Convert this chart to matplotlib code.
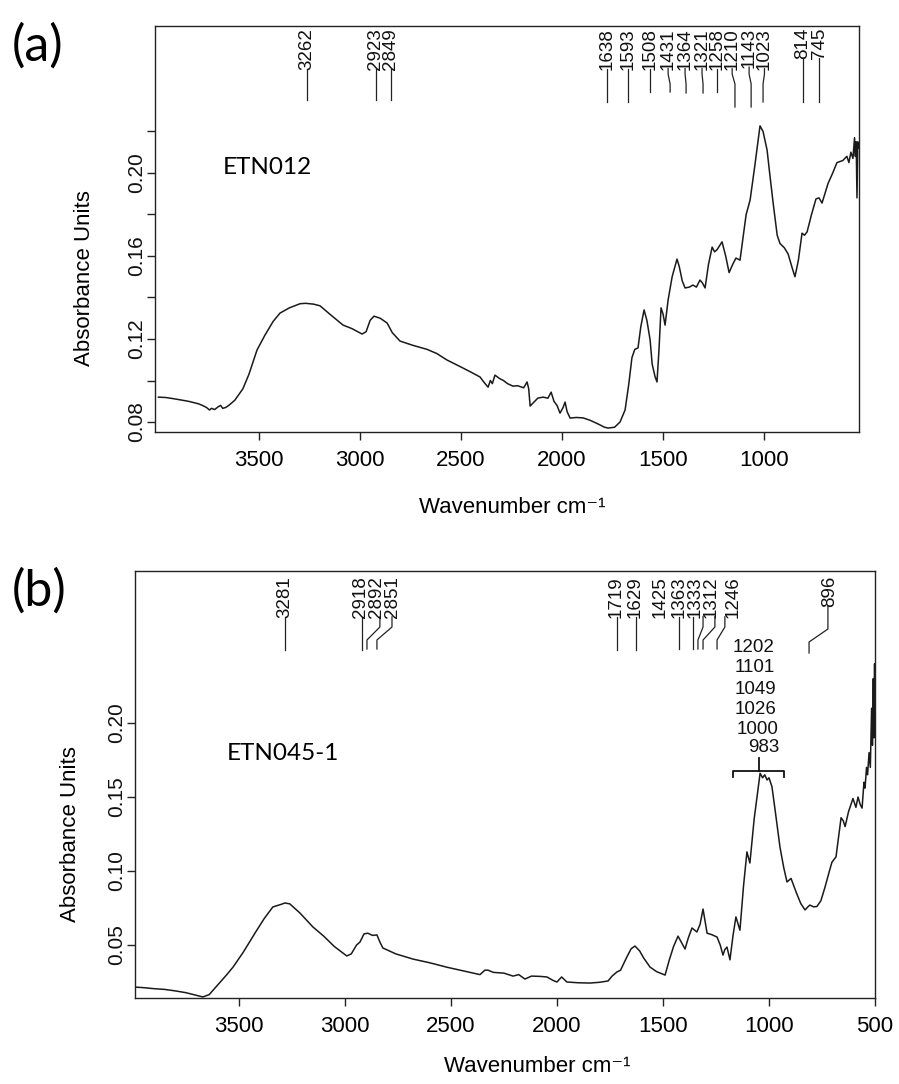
import matplotlib
matplotlib.use("Agg")
import matplotlib.pyplot as plt
import matplotlib.transforms as mtransforms

plt.rcParams['font.family'] = ['Liberation Sans', 'DejaVu Sans']

# ---------------- data: panel (a) ETN012 ----------------
wn_a = [3998, 3960, 3920, 3880, 3850, 3820, 3800, 3780, 3760, 3745, 3735, 3720, 3700, 3690,
        3680, 3665, 3650, 3620, 3580, 3550, 3510, 3470, 3430, 3396, 3350, 3297, 3270, 3230,
        3198, 3150, 3084, 3040, 2990, 2970, 2950, 2931, 2900, 2866, 2840, 2802, 2740, 2668,
        2620, 2570, 2500, 2450, 2406, 2385, 2366, 2355, 2345, 2332, 2310, 2290, 2270, 2243,
        2220, 2190, 2173, 2165, 2158, 2140, 2120, 2094, 2070, 2054, 2040, 2025, 2010, 1995,
        1985, 1975, 1960, 1930, 1896, 1860, 1820, 1790, 1772, 1740, 1713, 1688, 1670, 1654,
        1640, 1624, 1610, 1594, 1580, 1564, 1554, 1540, 1530, 1520, 1510, 1500, 1490, 1475,
        1455, 1431, 1420, 1405, 1391, 1370, 1352, 1335, 1317, 1305, 1292, 1275, 1257, 1245,
        1233, 1208, 1190, 1173, 1155, 1139, 1119, 1100, 1089, 1069, 1045, 1020, 1005, 985,
        970, 955, 935, 921, 900, 881, 860, 847, 830, 812, 800, 787, 765, 743, 728, 713, 683,
        660, 639, 610, 590, 580, 570, 560, 552, 548, 544, 540, 536, 532]
abs_a = [0.0920, 0.0918, 0.0912, 0.0905, 0.0900, 0.0893, 0.0888, 0.0880, 0.0870, 0.0858,
         0.0866, 0.0860, 0.0875, 0.0880, 0.0866, 0.0870, 0.0880, 0.0905, 0.0960, 0.1030,
         0.1147, 0.1220, 0.1285, 0.1325, 0.1350, 0.1370, 0.1372, 0.1368, 0.1360, 0.1320,
         0.1267, 0.1250, 0.1224, 0.1235, 0.1290, 0.1310, 0.1300, 0.1277, 0.1230, 0.1190,
         0.1170, 0.1150, 0.1130, 0.1099, 0.1065, 0.1040, 0.1017, 0.0990, 0.0968, 0.1000,
         0.0985, 0.1026, 0.1010, 0.1000, 0.0985, 0.0973, 0.0975, 0.0965, 0.0993, 0.0960,
         0.0877, 0.0895, 0.0915, 0.0920, 0.0915, 0.0944, 0.0900, 0.0880, 0.0843, 0.0870,
         0.0896, 0.0850, 0.0819, 0.0822, 0.0820, 0.0808, 0.0790, 0.0775, 0.0771, 0.0775,
         0.0800, 0.0858, 0.0980, 0.1110, 0.1150, 0.1157, 0.1260, 0.1340, 0.1290, 0.1195,
         0.1080, 0.1020, 0.0993, 0.1150, 0.1350, 0.1320, 0.1267, 0.1388, 0.1500, 0.1585,
         0.1550, 0.1480, 0.1446, 0.1450, 0.1460, 0.1450, 0.1484, 0.1470, 0.1446, 0.1560,
         0.1643, 0.1620, 0.1630, 0.1668, 0.1600, 0.1520, 0.1560, 0.1590, 0.1580, 0.1720,
         0.1798, 0.1870, 0.2040, 0.2227, 0.2200, 0.2110, 0.1980, 0.1855, 0.1700, 0.1660,
         0.1640, 0.1610, 0.1540, 0.1500, 0.1580, 0.1710, 0.1700, 0.1716, 0.1800, 0.1875,
         0.1880, 0.1855, 0.1950, 0.2000, 0.2050, 0.2060, 0.2080, 0.2050, 0.2100, 0.2070,
         0.2170, 0.2080, 0.2150, 0.1880, 0.2150, 0.2120]

# ---------------- data: panel (b) ETN045-1 ----------------
wn_b = [3995, 3950, 3900, 3850, 3800, 3750, 3700, 3670, 3640, 3600, 3560, 3528, 3480, 3420,
        3380, 3340, 3300, 3283, 3260, 3212, 3151, 3100, 3050, 2991, 2970, 2945, 2929, 2910,
        2892, 2870, 2849, 2835, 2821, 2760, 2679, 2600, 2519, 2440, 2363, 2340, 2325, 2300,
        2250, 2207, 2180, 2151, 2120, 2080, 2047, 2020, 2000, 1978, 1953, 1900, 1844, 1800,
        1759, 1740, 1717, 1700, 1670, 1650, 1632, 1610, 1590, 1561, 1530, 1490, 1470, 1450,
        1429, 1410, 1396, 1380, 1363, 1350, 1340, 1325, 1311, 1300, 1292, 1270, 1245, 1230,
        1217, 1208, 1198, 1184, 1170, 1156, 1137, 1120, 1104, 1090, 1070, 1052, 1042, 1030,
        1020, 1009, 1000, 986, 970, 948, 930, 915, 896, 870, 850, 830, 815, 807, 790, 774,
        755, 736, 715, 703, 684, 670, 660, 650, 641, 625, 604, 590, 580, 570, 561, 552, 547,
        540, 535, 528, 522, 516, 512, 508, 505, 502, 500]
abs_b = [0.0216, 0.0212, 0.0205, 0.0200, 0.0190, 0.0178, 0.0160, 0.0149, 0.0165, 0.0230,
         0.0295, 0.0350, 0.0450, 0.0590, 0.0680, 0.0757, 0.0775, 0.0784, 0.0778, 0.0716,
         0.0622, 0.0560, 0.0490, 0.0426, 0.0440, 0.0500, 0.0520, 0.0575, 0.0580, 0.0565,
         0.0568, 0.0520, 0.0480, 0.0440, 0.0405, 0.0380, 0.0350, 0.0325, 0.0300, 0.0330,
         0.0330, 0.0315, 0.0310, 0.0290, 0.0300, 0.0270, 0.0290, 0.0288, 0.0284, 0.0262,
         0.0250, 0.0284, 0.0250, 0.0245, 0.0243, 0.0248, 0.0257, 0.0290, 0.0318, 0.0330,
         0.0420, 0.0475, 0.0493, 0.0460, 0.0410, 0.0351, 0.0320, 0.0297, 0.0400, 0.0490,
         0.0560, 0.0510, 0.0473, 0.0550, 0.0615, 0.0600, 0.0588, 0.0640, 0.0743, 0.0650,
         0.0580, 0.0570, 0.0554, 0.0500, 0.0432, 0.0470, 0.0486, 0.0400, 0.0560, 0.0690,
         0.0600, 0.0900, 0.1129, 0.1054, 0.1350, 0.1548, 0.1660, 0.1630, 0.1650, 0.1615,
         0.1630, 0.1570, 0.1400, 0.1160, 0.1020, 0.0926, 0.0950, 0.0850, 0.0780, 0.0737,
         0.0760, 0.0770, 0.0758, 0.0760, 0.0800, 0.0890, 0.1000, 0.1060, 0.1095, 0.1250,
         0.1360, 0.1340, 0.1300, 0.1400, 0.1490, 0.1430, 0.1500, 0.1450, 0.1425, 0.1600,
         0.1560, 0.1700, 0.1650, 0.1800, 0.1700, 0.2100, 0.1850, 0.2300, 0.1900, 0.2400,
         0.2100]

# ---------------- peak annotations ----------------
peaks_a = ['3262', '2923', '2849', '1638', '1593', '1508', '1431', '1364', '1321', '1258',
           '1210', '1143', '1023', '814', '745']
peaks_b_vert = ['3281', '2918', '2892', '2851', '1719', '1629', '1425', '1363', '1333',
                '1312', '1246', '896']
peaks_b_stack = ['1202', '1101', '1049', '1026', '1000', '983']
yticks_a = [0.08, 0.10, 0.12, 0.14, 0.16, 0.18, 0.20, 0.22]
yticklabels_a = ['0.08', '', '0.12', '', '0.16', '', '0.20', '']
yticks_b = [0.05, 0.10, 0.15, 0.20]
yticklabels_b = ['0.05', '0.10', '0.15', '0.20']

# label layout (x in wavenumber): text x, line-bottom x, line-bottom y (px from top)
lay_a_text = [3262, 2923, 2849, 1777, 1673, 1564, 1475, 1391, 1307, 1233, 1158, 1074, 998, 807, 728]
lay_a_bot = [3262, 2923, 2849, 1777, 1673, 1564, 1465, 1386, 1302, 1233, 1144, 1064, 1005, 807, 728]
lay_a_ybot = [100, 100, 100, 102, 102, 92, 92, 93, 93, 92, 107, 107, 102, 102, 102]

lay_b_text = [3281, 2925, 2849, 2774, 1719, 1629, 1514, 1425, 1349, 1274, 1170, 712]
lay_b_top = [3281, 2918, 2835, 2778, 1719, 1629, 1425, 1358, 1311, 1255, 1208, 722]
lay_b_bot = [3281, 2918, 2896, 2849, 1719, 1629, 1425, 1358, 1335, 1311, 1245, 811]
lay_b_ybot = [650, 650, 649, 649, 650, 650, 649, 649, 649, 649, 649, 653]

W, H = 899, 1084
fig = plt.figure(figsize=(W / 100, H / 100), dpi=100)

def px_box(l, r, t, b):
    return [l / W, 1 - b / H, (r - l) / W, (b - t) / H]

A = dict(l=155, r=859, t=26, b=432)
B = dict(l=135, r=875, t=571, b=998)
ax1 = fig.add_axes(px_box(A['l'], A['r'], A['t'], A['b']))
ax2 = fig.add_axes(px_box(B['l'], B['r'], B['t'], B['b']))

line_kw = dict(color='#1a1a1a', lw=1.1)
ax1.plot(wn_a, abs_a, **line_kw)
ax2.plot(wn_b, abs_b, **line_kw)

ax1.set_xlim(4015, 530)
ax1.set_ylim(0.0752, 0.2708)
ax2.set_xlim(3990, 500)
ax2.set_ylim(0.0142, 0.3027)

ax1.set_xticks([3500, 3000, 2500, 2000, 1500, 1000])
ax2.set_xticks([3500, 3000, 2500, 2000, 1500, 1000, 500])
ax1.set_yticks(yticks_a)
ax2.set_yticks(yticks_b)

for ax, box, yt, ytl in ((ax1, A, yticks_a, yticklabels_a), (ax2, B, yticks_b, yticklabels_b)):
    for s in ax.spines.values():
        s.set_linewidth(1.0)
        s.set_color('#222222')
    ax.tick_params(axis='both', direction='out', length=6, width=1.0, color='#222222')
    ax.tick_params(axis='x', labelsize=16, pad=7)
    ax.tick_params(axis='y', labelleft=False)
    trY = mtransforms.blended_transform_factory(ax.transAxes, ax.transData)
    xoff = -18.5 / (box['r'] - box['l'])
    for v, s in zip(yt, ytl):
        if s:
            ax.text(xoff, v, s, transform=trY, rotation=90, rotation_mode='anchor',
                    ha='center', va='center', fontsize=15, color='#111111')
    ax.set_xlabel('Wavenumber cm⁻¹', fontsize=16, va='center')
    ax.set_ylabel('Absorbance Units', fontsize=16, va='center')

aw1, ah1 = A['r'] - A['l'], A['b'] - A['t']
aw2, ah2 = B['r'] - B['l'], B['b'] - B['t']
ax1.xaxis.set_label_coords((512 - A['l']) / aw1, -76 / ah1)
ax1.yaxis.set_label_coords(-71 / aw1, (A['b'] - 278) / ah1)
ax2.xaxis.set_label_coords((537 - B['l']) / aw2, -69 / ah2)
ax2.yaxis.set_label_coords(-64 / aw2, (B['b'] - 834) / ah2)

fig.text(223 / W, 1 - 168 / H, 'ETN012', family='Lato', fontsize=17.5, va='center', ha='left')
fig.text(227 / W, 1 - 753 / H, 'ETN045-1', family='Lato', fontsize=17.5, va='center', ha='left')
fig.text(12 / W, 1 - 46 / H, '(a)', family='Lato', fontsize=36, va='center', ha='left')
fig.text(12 / W, 1 - 591 / H, '(b)', family='Lato', fontsize=36, va='center', ha='left')

lab_fs = 13.5
tr1 = mtransforms.blended_transform_factory(ax1.transData, ax1.transAxes)
tr2 = mtransforms.blended_transform_factory(ax2.transData, ax2.transAxes)

def yfrac(ypx, box):
    return (box['b'] - ypx) / (box['b'] - box['t'])

texts_a = []
for lab, xt in zip(peaks_a, lay_a_text):
    t = ax1.text(xt, yfrac(28, A), lab, rotation=90, ha='center', va='top',
                 fontsize=lab_fs, transform=tr1, color='#111111')
    texts_a.append(t)
texts_b = []
for lab, xt in zip(peaks_b_vert, lay_b_text):
    t = ax2.text(xt, yfrac(576, B), lab, rotation=90, ha='center', va='top',
                 fontsize=lab_fs, transform=tr2, color='#111111')
    texts_b.append(t)

fig.canvas.draw()
rend = fig.canvas.get_renderer()

def text_bottom_frac(t, ax):
    bb = t.get_window_extent(rend)
    return ax.transAxes.inverted().transform((0, bb.y0 + 1))[1]

lead = dict(color='#222222', lw=0.9)
for t, xt, xb, yb in zip(texts_a, lay_a_text, lay_a_bot, lay_a_ybot):
    y0 = text_bottom_frac(t, ax1)
    if xt == xb:
        ax1.plot([xt, xb], [y0, yfrac(yb, A)], transform=tr1, **lead)
    else:
        ax1.plot([xt, xt, xb, xb], [y0, yfrac(74, A), yfrac(84, A), yfrac(yb, A)],
                 transform=tr1, **lead)

for t, xtop, xb, yb in zip(texts_b, lay_b_top, lay_b_bot, lay_b_ybot):
    y0 = text_bottom_frac(t, ax2)
    if xtop == xb:
        ax2.plot([xtop, xb], [y0, yfrac(yb, B)], transform=tr2, **lead)
    else:
        k1, k2 = (629, 642) if yb > 650 else (627, 640)
        ax2.plot([xtop, xtop, xb, xb], [y0, yfrac(k1, B), yfrac(k2, B), yfrac(yb, B)],
                 transform=tr2, **lead)

stack_x = [1071, 1066, 1066, 1061, 1052, 1024]
stack_y = [648, 668, 689, 710, 729, 747]
for lab, xs, ys in zip(peaks_b_stack, stack_x, stack_y):
    ax2.text(xs, yfrac(ys, B), lab, ha='center', va='center', fontsize=lab_fs,
             transform=tr2, color='#111111')
ax2.plot([1170, 1170, 929, 929], [yfrac(777, B), yfrac(771, B), yfrac(771, B), yfrac(777, B)],
         transform=tr2, color='#111111', lw=1.3)
ax2.plot([1047, 1047], [yfrac(771, B), yfrac(758, B)], transform=tr2, color='#111111', lw=1.3)

fig.savefig('out.png', dpi=100)
